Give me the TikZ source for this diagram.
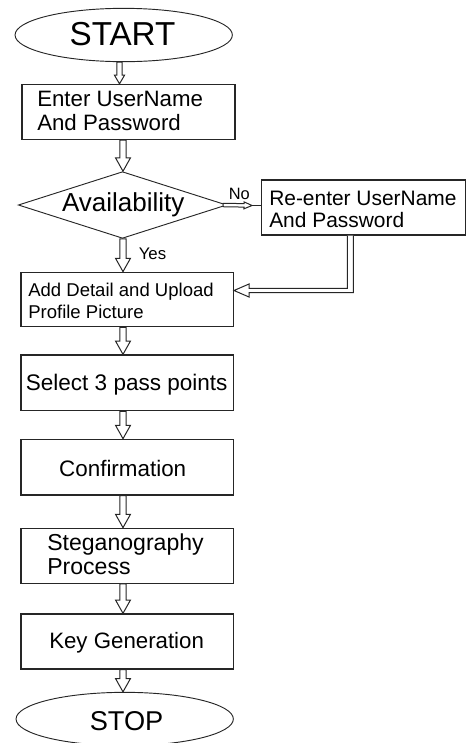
\documentclass[tikz,border=0pt]{standalone}
\usepackage{fontspec}
\setmainfont{Liberation Sans}
\usetikzlibrary{calc,shapes.geometric}

% outlined "block" arrow: #1 half shaft width, #2 half head width, #3 head length
\tikzset{
  barrow/.style n args={3}{
    draw=black!85, line width=0.75pt, fill=white, line join=miter,
    to path={
      ($(\tikztotarget)!#3!(\tikztostart)$) coordinate (bahead)
      ($(\tikztostart)!#1!90:(\tikztotarget)$)
      -- ($(bahead)!#1!-90:(\tikztostart)$)
      -- ($(bahead)!#2!-90:(\tikztostart)$)
      -- (\tikztotarget)
      -- ($(bahead)!#2!90:(\tikztostart)$)
      -- ($(bahead)!#1!90:(\tikztostart)$)
      -- ($(\tikztostart)!#1!-90:(\tikztotarget)$) -- cycle
    }},
  flow/.style={barrow={2.4pt}{5.6pt}{10pt}},
  flowsmall/.style={barrow={1.9pt}{3.8pt}{6.5pt}},
  flowthin/.style={barrow={1.3pt}{2.6pt}{6pt}},
  stepbox/.style={draw=black!85, line width=1pt, rectangle, inner sep=0pt},
  terminal/.style={draw=black!85, line width=0.7pt, ellipse, inner sep=0pt,
    minimum width=163pt, minimum height=40pt},
  decision/.style={draw=black!85, line width=0.7pt, diamond, inner sep=0pt,
    minimum width=156.3pt, minimum height=50pt},
  txt/.style={inner sep=0pt, align=left, text=black},
}

\begin{document}
\begin{tikzpicture}[x=0.75pt,y=-0.75pt]
\useasboundingbox (0,0) rectangle (466,743);

% shapes
\node[terminal] (start) at (123.7,35) {};
\node[stepbox, minimum width=159.75pt, minimum height=41.25pt] (enter) at (128.5,112) {};
\node[decision] (avail) at (122.5,205) {};
\node[stepbox, minimum width=152.85pt, minimum height=41.25pt] (reenter) at (363.6,207.5) {};
\node[stepbox, minimum width=159.2pt, minimum height=40.8pt] (detail) at (127.2,299.5) {};
\node[stepbox, minimum width=159.2pt, minimum height=41.8pt] (select) at (127.2,382.9) {};
\node[stepbox, minimum width=159.2pt, minimum height=41.8pt] (confirm) at (127.2,467.2) {};
\node[stepbox, minimum width=159.2pt, minimum height=41.25pt] (stego) at (127.2,555.8) {};
\node[stepbox, minimum width=159.2pt, minimum height=41.25pt] (keygen) at (127.2,641.5) {};
\node[terminal] (stop) at (124.7,719) {};

% texts (multi-line texts are placed by the baseline of their last line)
\node[txt, anchor=base, font=\fontsize{24.9}{29}\selectfont] (tstart) at (122.5,45) {START};
\node[txt, anchor=base west, font=\fontsize{16.7}{17.6}\selectfont] (tenter) at (37,130) {Enter UserName\\And Password};
\node[txt, anchor=base, font=\fontsize{19.5}{23}\selectfont] (tavail) at (123.3,211.7) {Availability};
\node[txt, anchor=base west, font=\fontsize{15.7}{16.5}\selectfont] (treenter) at (269,227) {Re-enter UserName\\And Password};
\node[txt, anchor=base west, font=\fontsize{13.9}{16}\selectfont] (tdetail) at (28,318) {Add Detail and Upload\\Profile Picture};
\node[txt, anchor=base, font=\fontsize{16.9}{20}\selectfont] (tselect) at (126.7,390) {Select 3 pass points};
\node[txt, anchor=base, font=\fontsize{16.8}{20}\selectfont] (tconfirm) at (122.7,476.7) {Confirmation};
\node[txt, anchor=base west, font=\fontsize{17.3}{18}\selectfont] (tstego) at (47,574) {Steganography\\Process};
\node[txt, anchor=base west, font=\fontsize{16.7}{20}\selectfont] (tkey) at (49,648) {Key Generation};
\node[txt, anchor=base west, font=\fontsize{20.4}{24}\selectfont] (tstop) at (89.5,730) {STOP};
\node[txt, anchor=base west, font=\fontsize{12.3}{14}\selectfont] (tno) at (228.5,199.5) {No};
\node[txt, anchor=base west, font=\fontsize{12.6}{15}\selectfont] (tyes) at (138.5,259.5) {Yes};

% guide lines for the main flow
\coordinate (spine) at (123,0);
\coordinate (spinea) at (119.5,0);

% main flow connectors
\draw[flowsmall] (start.south -| spinea) to (enter.north -| spinea);
\draw[flow] (enter.south -| spine) to (avail.north -| spine);
\draw[flow] (avail.south -| spine) to (detail.north -| spine);
\draw[flow] (detail.south -| spine) to (select.north -| spine);
\draw[flow] (select.south -| spine) to (confirm.north -| spine);
\draw[flow] (confirm.south -| spine) to (stego.north -| spine);
\draw[flow] (stego.south -| spine) to (keygen.north -| spine);
\draw[flow] (keygen.south -| spine) to (stop.north -| spine);

% "No" branch
\coordinate (notip) at ($(reenter.west)+(-9,-2)$);
\draw[flowthin] ($(avail.east)+(-4,0)$) to (notip);
\draw[line width=1.4pt, black!85] (notip) -- (notip -| reenter.west);

% return path from the re-entry box
\coordinate (fbx) at (350.3,0);
\coordinate (fbtop) at (reenter.south -| fbx);
\coordinate (fbend) at (350.3,290.5);
\coordinate (fbtip) at (detail.east |- fbend);
\draw[draw=black!85, line width=0.75pt, fill=white, line join=miter]
  ($(fbtop)+(-3,0)$) -- ($(fbend)+(-3,-2.2)$) -- ($(fbtip)+(15,-2.2)$)
  -- ($(fbtip)+(15,-6.5)$) -- (fbtip) -- ($(fbtip)+(15,6.5)$)
  -- ($(fbtip)+(15,2.2)$) -- ($(fbend)+(3,2.2)$) -- ($(fbtop)+(3,0)$);
\end{tikzpicture}
\end{document}
